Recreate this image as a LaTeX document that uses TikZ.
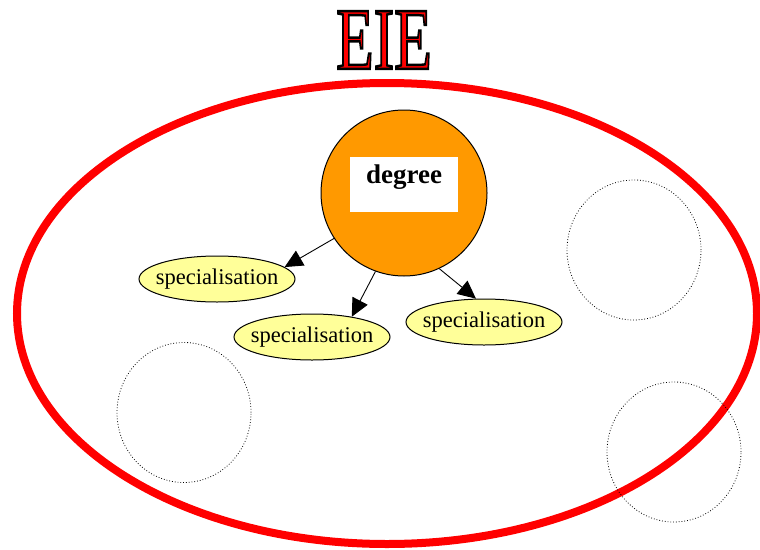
\documentclass[tikz,border=0pt]{standalone}
\usepackage{xcolor}
\usepackage{fontspec}
\setmainfont{Liberation Serif}
\usepackage{tikz}
\usetikzlibrary{calc,arrows.meta,shapes.geometric}

\definecolor{deporange}{HTML}{FF9900}
\definecolor{specyellow}{HTML}{FFFF99}

\begin{document}
\begin{tikzpicture}[x=1pt,y=-1pt,>={Triangle[length=18pt,width=17pt]},
		spec/.style={draw,line width=1pt,ellipse,fill=specyellow,inner xsep=-8pt,inner ysep=0pt,minimum width=156pt,minimum height=46pt,font=\fontsize{22.5}{24}\selectfont},
		hole/.style={draw,dotted,line width=0.8pt}]
			\def\rx{370}
			\def\ry{230.5}
			
			\useasboundingbox (0,0) rectangle (760,549);
			
			\draw[red,line width=8pt] (387,313.5) ellipse (\rx pt and \ry pt);
			
			\node[red,font=\fontsize{88}{88}\selectfont,xscale=0.7] (ttl) at (384,40)
				{\special{pdf:literal direct 2 Tr 2.4 w 0 0 0 RG}EIE\special{pdf:literal direct 0 Tr}};
			
			\node[circle,draw,line width=1pt,fill=deporange,minimum size=166pt,inner sep=0pt] (deg) at (404,193) {};
			\node[fill=white,minimum width=108pt,minimum height=55pt,inner sep=0pt] (box) at (404,184.5) {};
			\node[font=\fontsize{27}{28}\selectfont\bfseries] (dlbl) at (404,177) {degree};
			
			\node[spec] (spA) at (217,279) {specialisation};
			\node[spec] (spB) at (312,337) {specialisation};
			\node[spec] (spC) at (484,322) {specialisation};
			
			\draw[->,line width=0.9pt] (deg.213)--(spA.10);
			\draw[->,line width=0.9pt] (deg.250)--(spB.27);
			\draw[->,line width=0.9pt] (deg.295)--(spC.109);
			
			\draw[hole] (634,250) ellipse (67pt and 70pt);
			\draw[hole] (184,412.5) ellipse (67pt and 70pt);
			\draw[hole] (674,452) ellipse (67pt and 70pt);
		\end{tikzpicture}
\end{document}
